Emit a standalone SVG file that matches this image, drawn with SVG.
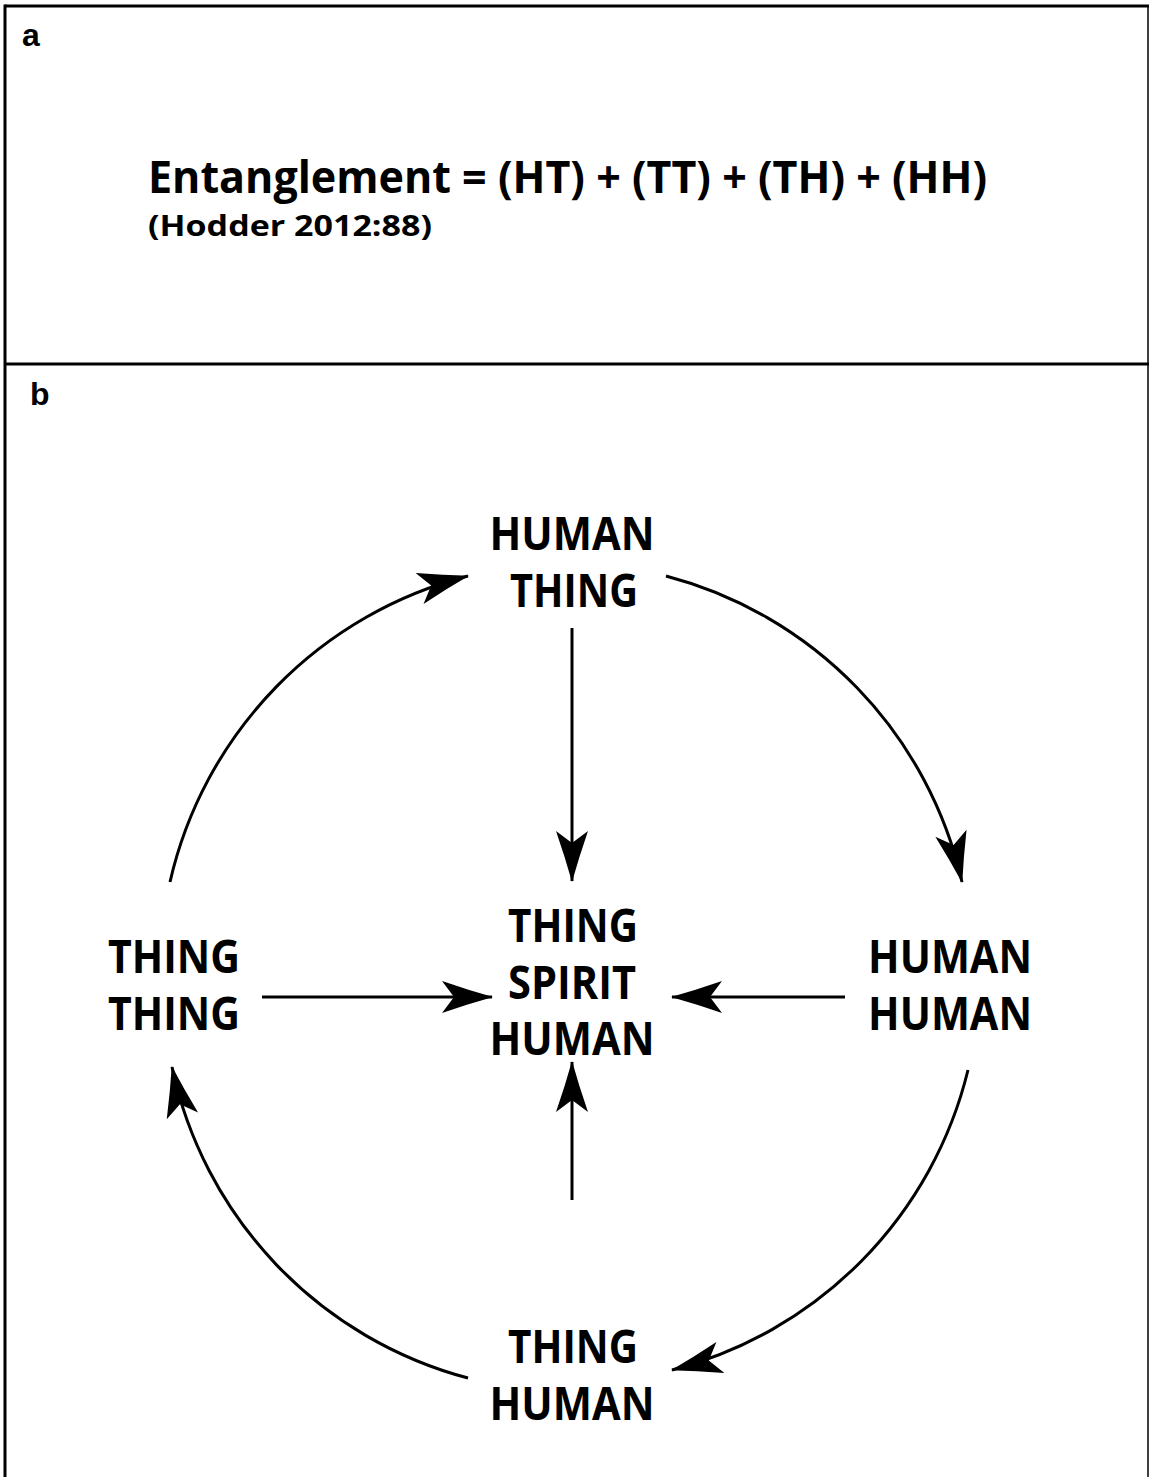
<svg xmlns="http://www.w3.org/2000/svg" width="1150" height="1477" viewBox="0 0 1150 1477">
  <style>
    .lbl { font-family: "Open Sans", "Liberation Sans", sans-serif; font-weight: bold; font-size: 46px; fill: #000; text-anchor: middle; }
    .panel { font-family: "Liberation Sans", Arial, sans-serif; font-weight: bold; font-size: 32px; fill: #000; }
    .eq { font-family: "Open Sans", "Liberation Sans", sans-serif; font-weight: bold; fill: #000; }
    .conn { fill: none; stroke: #000; stroke-width: 3; }
  </style>
  <defs>
    <marker id="arr" markerUnits="userSpaceOnUse" markerWidth="64" markerHeight="44" viewBox="-54 -22 64 44" refX="0" refY="0" orient="auto">
      <path d="M1,0 Q-24,-7 -50,-16 L-38,0 L-50,16 Q-24,7 1,0 Z" fill="#000"/>
    </marker>
  </defs>
  <rect x="0" y="0" width="1150" height="1477" fill="#fff"/>
  <g id="frame">
    <line x1="5" y1="6" x2="1149" y2="6" stroke="#000" stroke-width="3"/>
    <line x1="5" y1="4.5" x2="5" y2="1477" stroke="#000" stroke-width="3"/>
    <line x1="1148" y1="6" x2="1148" y2="1477" stroke="#000" stroke-width="1.5"/>
    <line x1="5" y1="364" x2="1149" y2="364" stroke="#000" stroke-width="3"/>
  </g>
  <g id="panel-a">
    <text class="panel" x="22" y="46">a</text>
    <text class="eq" x="148" y="193" font-size="44" textLength="839" lengthAdjust="spacingAndGlyphs">Entanglement = (HT) + (TT) + (TH) + (HH)</text>
    <text class="eq" x="148" y="236" font-size="29" textLength="284" lengthAdjust="spacingAndGlyphs">(Hodder 2012:88)</text>
  </g>
  <text class="panel" x="30" y="405">b</text>
  <g id="connectors">
    <path class="conn" d="M572,628 L572,881" marker-end="url(#arr)"/>
    <path class="conn" d="M572,1200 L572,1062" marker-end="url(#arr)"/>
    <path class="conn" d="M262,997 L492,997" marker-end="url(#arr)"/>
    <path class="conn" d="M845,997 L672,997" marker-end="url(#arr)"/>
    <path class="conn" d="M170,882 A410,410 0 0 1 468,576" marker-end="url(#arr)"/>
    <path class="conn" d="M666,576 A410,410 0 0 1 962,882" marker-end="url(#arr)"/>
    <path class="conn" d="M968,1070 A410,410 0 0 1 672,1370" marker-end="url(#arr)"/>
    <path class="conn" d="M468,1378 A410,410 0 0 1 172,1067" marker-end="url(#arr)"/>
  </g>
  <g id="node-human-thing">
    <text class="lbl" x="572" y="550" textLength="165" lengthAdjust="spacingAndGlyphs">HUMAN</text>
    <text class="lbl" x="574" y="607" textLength="128" lengthAdjust="spacingAndGlyphs">THING</text>
  </g>
  <g id="node-center">
    <text class="lbl" x="573" y="942" textLength="130" lengthAdjust="spacingAndGlyphs">THING</text>
    <text class="lbl" x="572" y="999" textLength="128" lengthAdjust="spacingAndGlyphs">SPIRIT</text>
    <text class="lbl" x="572" y="1055" textLength="165" lengthAdjust="spacingAndGlyphs">HUMAN</text>
  </g>
  <g id="node-thing-thing">
    <text class="lbl" x="174" y="973" textLength="132" lengthAdjust="spacingAndGlyphs">THING</text>
    <text class="lbl" x="174" y="1030" textLength="132" lengthAdjust="spacingAndGlyphs">THING</text>
  </g>
  <g id="node-human-human">
    <text class="lbl" x="950" y="973" textLength="164" lengthAdjust="spacingAndGlyphs">HUMAN</text>
    <text class="lbl" x="950" y="1030" textLength="164" lengthAdjust="spacingAndGlyphs">HUMAN</text>
  </g>
  <g id="node-thing-human">
    <text class="lbl" x="573" y="1363" textLength="130" lengthAdjust="spacingAndGlyphs">THING</text>
    <text class="lbl" x="572" y="1420" textLength="165" lengthAdjust="spacingAndGlyphs">HUMAN</text>
  </g>
</svg>
